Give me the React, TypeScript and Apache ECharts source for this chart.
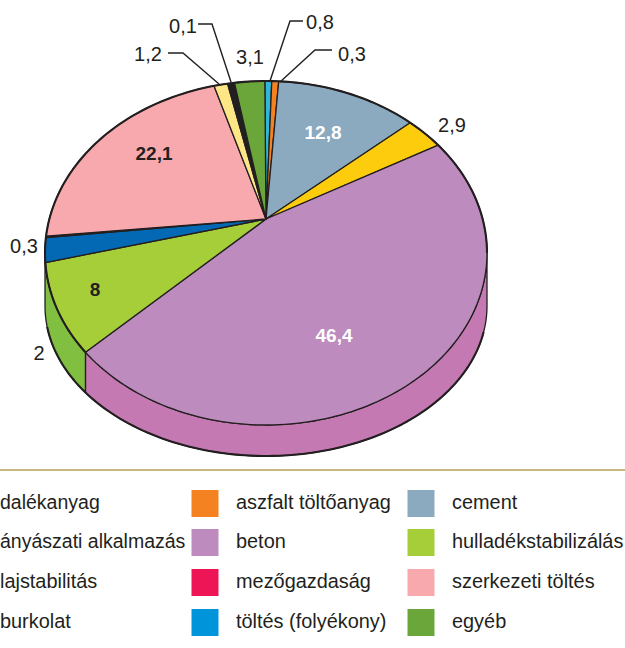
import React, { useEffect, useRef } from "react";
import * as echarts from "echarts";

const sliceNames = ["töltés (folyékony)", "aszfalt töltőanyag", "cement", "adalékanyag", "beton", "hulladékstabilizálás", "bányászati alkalmazás", "elválasztó", "szerkezeti töltés", "talajstabilitás", "burkolat", "egyéb"];
const sliceShares = [0.5, 0.5, 10.4, 2.9, 51, 8.9, 2.3, 0.15, 19.65, 1, 0.5, 2.2];
const sliceColors = ["#2fb6d9", "#f58220", "#8baabf", "#fdcc0d", "#bd8bbd", "#a6ce39", "#0469b4", "#231f20", "#f8a9ad", "#fde686", "#231f20", "#6aa639"];

const labelTexts = ["0,8", "0,3", "12,8", "2,9", "46,4", "2", "8", "0,3", "22,1", "1,2", "0,1", "3,1"];
const labelAnchors: [number, number][] = [[320, 22], [352, 54], [323, 132], [452, 125], [334, 335], [39, 353], [95, 289], [24, 246], [154, 153], [148, 54], [183, 26], [250, 57]];
const labelStyles = ["n", "n", "w", "n", "w", "n", "b", "n", "b", "n", "n", "n"];

const leaderLines: [number, number][][] = [
  [[303, 21], [290, 21], [270, 81]],
  [[332, 50], [315, 50], [280, 82]],
  [[168, 53], [183, 53], [219, 84]],
  [[198, 24], [212, 24], [231, 82]],
];

const legendFragments = ["dalékanyag", "ányászati alkalmazás", "lajstabilitás", "burkolat"];
const legendFragmentSize = [19.5, 19.5, 19.9, 19.9];
const legendCol2 = ["aszfalt töltőanyag", "beton", "mezőgazdaság", "töltés (folyékony)"];
const legendCol2Colors = ["#f58220", "#bd8bbd", "#ed1556", "#0095da"];
const legendCol3 = ["cement", "hulladékstabilizálás", "szerkezeti töltés", "egyéb"];
const legendCol3Colors = ["#8baabf", "#a6ce39", "#f8a9ad", "#6aa639"];
const legendRowY = [502, 541, 581, 621];

const FONT = "'Liberation Sans', Arial, sans-serif";
const INK = "#231f20";
const CX = 266, TOP_CY = 253, RX = 221, TOP_RY = 172, APEX_Y = 219, LOW_CY = 306, LOW_RY = 150, START = -0.3;

const rad = (d: number) => (d * Math.PI) / 180;
const topPt = (t: number): number[] => [CX + RX * Math.sin(rad(t)), TOP_CY - TOP_RY * Math.cos(rad(t))];
const lowPt = (t: number): number[] => [CX + RX * Math.sin(rad(t)), LOW_CY - LOW_RY * Math.cos(rad(t))];
const samples = (a: number, b: number, f: (t: number) => number[]) => {
  const n = Math.max(2, Math.ceil(Math.abs(b - a) / 1.5));
  const out: number[][] = [];
  for (let i = 0; i <= n; i++) out.push(f(a + ((b - a) * i) / n));
  return out;
};

const total = sliceShares.reduce((s, v) => s + v, 0);
const bounds: number[] = [START];
sliceShares.forEach((v) => bounds.push(bounds[bounds.length - 1] + (v / total) * 360));
const betonEnd = bounds[sliceNames.indexOf("beton") + 1];

const wallParts = [
  { name: "beton fal", from: 90, to: betonEnd, color: "#c579b2" },
  { name: "2", from: betonEnd, to: 270, color: "#80bf40" },
];

function buildOption() {
  const graphics: any[] = [];
  graphics.push({ type: "line", shape: { x1: 0, y1: 470, x2: 625, y2: 470 }, style: { stroke: "#b5a04f", lineWidth: 1.6 } });
  leaderLines.forEach((pts) => graphics.push({ type: "polyline", shape: { points: pts }, style: { stroke: INK, lineWidth: 1.4, fill: "none" }, z: 20 }));
  labelTexts.forEach((t, i) => {
    const s = labelStyles[i];
    graphics.push({
      type: "text", x: labelAnchors[i][0], y: labelAnchors[i][1], z: 20,
      style: { text: t, fill: s === "w" ? "#ffffff" : INK, font: `${s === "n" ? "normal 20px" : "bold 19px"} ${FONT}`, align: "center", verticalAlign: "middle" },
    });
  });
  const legendText = (text: string, x: number, y: number, size = 19.9) =>
    graphics.push({ type: "text", x, y, style: { text, fill: INK, font: `normal ${size}px ${FONT}`, align: "left", verticalAlign: "middle" } });
  legendFragments.forEach((t, i) => legendText(t, 0, legendRowY[i], legendFragmentSize[i]));
  const column = (names: string[], colors: string[], sx: number, tx: number) =>
    names.forEach((t, i) => {
      graphics.push({ type: "rect", shape: { x: sx, y: legendRowY[i] - 12, width: 27, height: 27 }, style: { fill: colors[i] } });
      legendText(t, tx, legendRowY[i]);
    });
  column(legendCol2, legendCol2Colors, 191.5, 236);
  column(legendCol3, legendCol3Colors, 407.5, 452);

  return {
    animation: false,
    backgroundColor: "#ffffff",
    graphic: graphics,
    series: [
      {
        type: "custom", coordinateSystem: "none", z: 1, silent: true,
        data: wallParts.map((w) => ({ name: w.name, value: w.to - w.from })),
        renderItem: (p: any) => {
          const w = wallParts[p.dataIndex];
          const points = [...samples(w.from, w.to, topPt), ...samples(w.to, w.from, lowPt)];
          return { type: "polygon", shape: { points }, style: { fill: w.color, stroke: INK, lineWidth: 1.3, lineJoin: "round" } };
        },
      },
      {
        type: "custom", coordinateSystem: "none", z: 2, silent: true,
        data: sliceNames.map((name, i) => ({ name, value: sliceShares[i] })),
        renderItem: (p: any) => {
          const i = p.dataIndex;
          const points = [[CX, APEX_Y], ...samples(bounds[i], bounds[i + 1], topPt)];
          return { type: "polygon", shape: { points }, style: { fill: sliceColors[i], stroke: INK, lineWidth: 1.3, lineJoin: "round" } };
        },
      },
      {
        type: "custom", coordinateSystem: "none", z: 3, silent: true,
        data: [{ name: "perem", value: 1 }, { name: "alja", value: 1 }],
        renderItem: (p: any) => {
          const points = p.dataIndex === 0 ? samples(betonEnd, 450, topPt) : samples(100, 262, lowPt);
          return { type: "polyline", shape: { points }, style: { fill: "none", stroke: INK, lineWidth: 2.1, lineJoin: "round" } };
        },
      },
    ],
  };
}

export default function App() {
  const ref = useRef<HTMLDivElement>(null);
  useEffect(() => {
    document.body.style.margin = "0";
    document.body.style.overflow = "hidden";
    const chart = echarts.init(ref.current!, undefined, { renderer: "svg" });
    chart.setOption(buildOption() as any);
    return () => chart.dispose();
  }, []);
  return <div ref={ref} style={{ width: 625, height: 648 }} />;
}
